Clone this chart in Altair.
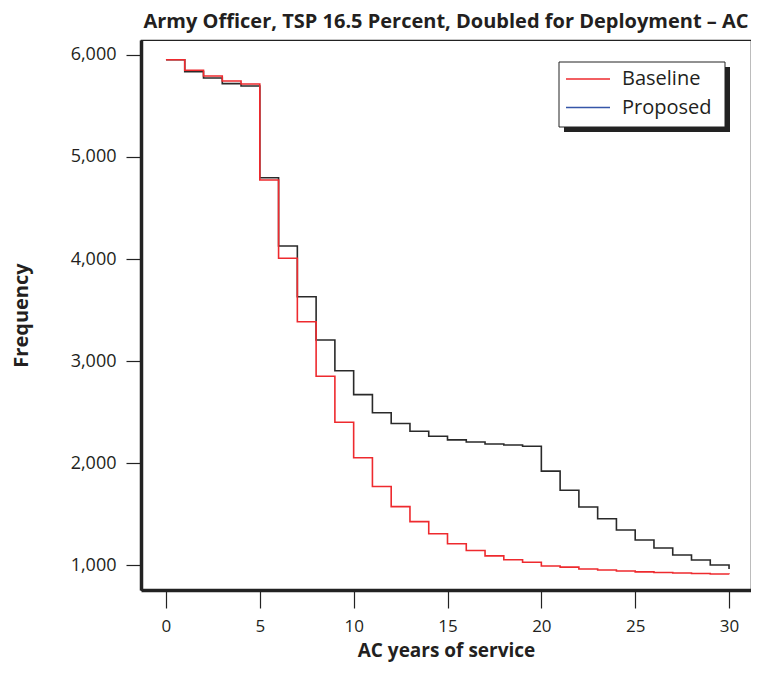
import altair as alt
import pandas as pd

# ---------------- data ----------------
years = list(range(31))
baseline = [5954, 5850, 5794, 5745, 5716, 4775, 4007, 3385, 2850, 2399,
            2052, 1770, 1572, 1425, 1307, 1209, 1142, 1090, 1051, 1027,
            990, 979, 961, 951, 941, 933, 927, 922, 917, 912, 910]
proposed = [5954, 5837, 5775, 5719, 5696, 4797, 4127, 3630, 3206, 2905,
            2670, 2492, 2387, 2311, 2263, 2227, 2206, 2186, 2176, 2165,
            1920, 1733, 1569, 1453, 1343, 1245, 1167, 1098, 1049, 1000, 961]
series_names = ["Baseline", "Proposed"]
line_colors = {"Baseline": "#ee2a2e", "Proposed": "#2a2a2a"}
legend_colors = ["#ee2a2e", "#3556a8"]
x_ticks = [0, 5, 10, 15, 20, 25, 30]
y_ticks = [1000, 2000, 3000, 4000, 5000, 6000]
title_text = "Army Officer, TSP 16.5 Percent, Doubled for Deployment \u2013 AC"

df = pd.DataFrame({
    "year": years * 2,
    "value": baseline + proposed,
    "series": ["Baseline"] * len(years) + ["Proposed"] * len(years),
})

FONT = "Open Sans"
INK = "#231f20"
W, H = 610, 550

x_enc = alt.X(
    "year:Q",
    scale=alt.Scale(domain=[-1.33, 31.17], nice=False, zero=False),
    axis=alt.Axis(values=x_ticks, title="AC years of service", tickSize=18,
                  labelPadding=10, labelFontSize=17, titleFontSize=19,
                  titlePadding=7),
)
y_enc = alt.Y(
    "value:Q",
    scale=alt.Scale(domain=[755, 6147], nice=False, zero=False),
    axis=alt.Axis(values=y_ticks, format=",d", title="Frequency", tickSize=15,
                  labelPadding=10, titlePadding=39),
)


def series_line(name):
    return (
        alt.Chart(df)
        .transform_filter(alt.datum.series == name)
        .mark_line(interpolate="step-after", color=line_colors[name], strokeWidth=1.6)
        .encode(x=x_enc, y=y_enc)
    )


one = pd.DataFrame({"k": [0]})

# legend box (manual, because the reference legend colours differ from the lines)
lx, ly = 418, 22
lw, lh = 166, 65
shadow = alt.Chart(one).mark_rect(color="#222222").encode(
    x=alt.value(lx + 5), x2=alt.value(lx + lw + 5), y=alt.value(ly + 5), y2=alt.value(ly + lh + 5)
)
box = alt.Chart(one).mark_rect(fill="white", stroke="#222222", strokeWidth=1).encode(
    x=alt.value(lx), x2=alt.value(lx + lw), y=alt.value(ly), y2=alt.value(ly + lh)
)
legend_layers = [shadow, box]
for i, (name, col) in enumerate(zip(series_names, legend_colors)):
    yy = ly + 17 + i * 28.5
    legend_layers.append(
        alt.Chart(one).mark_rule(color=col, strokeWidth=1.3).encode(
            x=alt.value(lx + 7), x2=alt.value(lx + 51), y=alt.value(yy)
        )
    )
    legend_layers.append(
        alt.Chart(one).mark_text(text=name, align="left", baseline="middle",
                                 font=FONT, fontSize=20, color=INK).encode(
            x=alt.value(lx + 63), y=alt.value(yy)
        )
    )

chart = (
    alt.layer(series_line("Proposed"), series_line("Baseline"), *legend_layers)
    .properties(
        width=W,
        height=H,
        autosize="none",
        background="white",
        padding={"left": 133, "top": 32, "right": 0, "bottom": 77},
        title=alt.TitleParams(title_text, font=FONT, fontSize=20, fontWeight="bold",
                              color=INK, anchor="middle", offset=8),
    )
    .configure_view(stroke="#222222", strokeWidth=1.2)
    .configure_axis(
        grid=False,
        labelFont=FONT, labelFontSize=18, labelColor=INK,
        titleFont=FONT, titleFontSize=20, titleFontWeight="bold", titleColor=INK,
        domainColor="#222222", domainWidth=3.5,
        tickColor="#222222", tickWidth=1.2,
    )
)

chart.save("out.html", embed_options={"renderer": "svg", "actions": False})
